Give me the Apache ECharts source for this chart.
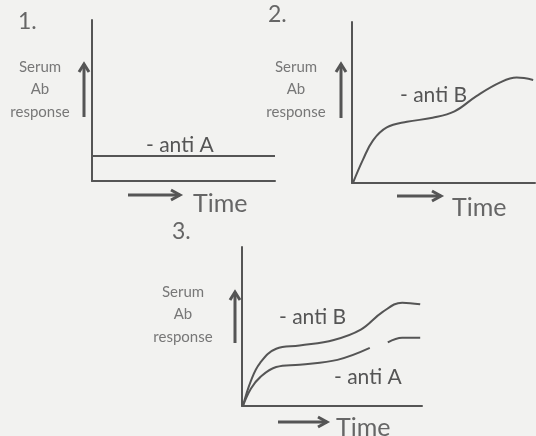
<!DOCTYPE html>
<html>
<head>
<meta charset="utf-8">
<script src="https://cdn.jsdelivr.net/npm/echarts@6/dist/echarts.min.js"></script>
<style>
html, body { margin: 0; padding: 0; background: #f2f2f0; }
#chart { width: 536px; height: 436px; }
</style>
</head>
<body>
<div id="chart"></div>
<script>
// panel 1 : anti A only (flat)
var time1 = [0, 10];
var antiA1 = [1.55, 1.55];
// panel 2 : anti B
var time2 = [0.05, 0.6, 1.15, 1.9, 3.0, 4.4, 5.6, 6.8, 8.1, 9.0, 9.9];
var antiB2 = [0, 1.45, 2.65, 3.45, 3.8, 4.05, 4.45, 5.4, 6.25, 6.55, 6.4];
// panel 3 : anti B and anti A together (gap in anti A)
var time3 = [0.05, 0.5, 1.0, 1.9, 3.2, 5.1, 6.6, 7.8, 8.9, 9.9];
var antiB3 = [0, 1.6, 2.7, 3.6, 3.8, 4.15, 4.8, 5.9, 6.5, 6.4];
var time3a = [0.05, 0.5, 1.0, 1.9, 3.2, 5.3, 7.1, 7.6, 8.1, 8.9, 9.9];
var antiA3 = [0, 1.1, 1.8, 2.45, 2.6, 2.9, 3.65, null, 4.0, 4.3, 4.3];

var lineCol = '#555';
var textCol = '#666';

function pairs(xs, ys) {
    return xs.map(function (x, i) { return [x, ys[i]]; });
}

function axisX(i) {
    return {
        type: 'value', gridIndex: i, min: 0, max: 10,
        axisLine: { show: true, lineStyle: { color: lineCol, width: 2 } },
        axisTick: { show: false }, axisLabel: { show: false }, splitLine: { show: false }
    };
}
function axisY(i) {
    return {
        type: 'value', gridIndex: i, min: 0, max: 10,
        axisLine: { show: true, lineStyle: { color: lineCol, width: 2 } },
        axisTick: { show: false }, axisLabel: { show: false }, splitLine: { show: false }
    };
}
function curve(i, data) {
    return {
        type: 'line', xAxisIndex: i, yAxisIndex: i, data: data,
        showSymbol: false, smooth: 0.4, connectNulls: false, silent: true,
        lineStyle: { color: lineCol, width: 2 }
    };
}

// open arrows drawn as decorations
function upArrow(x, y1, y2) {
    return [
        { type: 'line', shape: { x1: x, y1: y1, x2: x, y2: y2 }, style: { stroke: '#555', lineWidth: 3 } },
        { type: 'polyline', shape: { points: [[x - 5, y2 + 8], [x, y2], [x + 5, y2 + 8]] }, style: { stroke: '#555', lineWidth: 3, fill: null } }
    ];
}
function rightArrow(x1, x2, y) {
    return [
        { type: 'line', shape: { x1: x1, y1: y, x2: x2, y2: y }, style: { stroke: '#555', lineWidth: 3 } },
        { type: 'polyline', shape: { points: [[x2 - 9, y - 5], [x2, y], [x2 - 9, y + 5]] }, style: { stroke: '#555', lineWidth: 3, fill: null } }
    ];
}
function txt(x, y, s, size, align, col) {
    return { type: 'text', x: x, y: y, style: { text: s, fontSize: size, fontFamily: 'Lato', fill: col || textCol, textAlign: align || 'left', textVerticalAlign: 'middle' } };
}
function yLabel(cx, cy) {
    return [txt(cx, cy, 'Serum', 15, 'center', '#777'), txt(cx, cy + 22, 'Ab', 15, 'center', '#777'), txt(cx, cy + 45, 'response', 15, 'center', '#777')];
}

var graphic = [].concat(
    txt(18, 22, '1.', 23), txt(268, 15, '2.', 23), txt(172, 232, '3.', 23),
    yLabel(40, 67), yLabel(296, 67), yLabel(183, 292),
    upArrow(84, 117, 64), upArrow(341, 118, 64), upArrow(235, 343, 292),
    rightArrow(128, 180, 195), rightArrow(397, 441, 196), rightArrow(278, 327, 422),
    txt(193, 204, 'Time', 25), txt(452, 208, 'Time', 25), txt(336, 428, 'Time', 25),
    txt(146, 145, '- anti A', 21, 'left', '#555'),
    txt(400, 95, '- anti B', 21, 'left', '#555'),
    txt(279, 317, '- anti B', 21, 'left', '#555'),
    txt(334, 377, '- anti A', 21, 'left', '#555')
);

var chart = echarts.init(document.getElementById('chart'));
chart.setOption({
    backgroundColor: '#f2f2f0',
    animation: false,
    grid: [
        { left: 92, top: 20, width: 183, height: 161 },
        { left: 352, top: 22, width: 183, height: 161 },
        { left: 242, top: 247, width: 180, height: 159 }
    ],
    xAxis: [axisX(0), axisX(1), axisX(2)],
    yAxis: [axisY(0), axisY(1), axisY(2)],
    series: [
        curve(0, pairs(time1, antiA1)),
        curve(1, pairs(time2, antiB2)),
        curve(2, pairs(time3, antiB3)),
        curve(2, pairs(time3a, antiA3))
    ],
    graphic: graphic
});
</script>
</body>
</html>
